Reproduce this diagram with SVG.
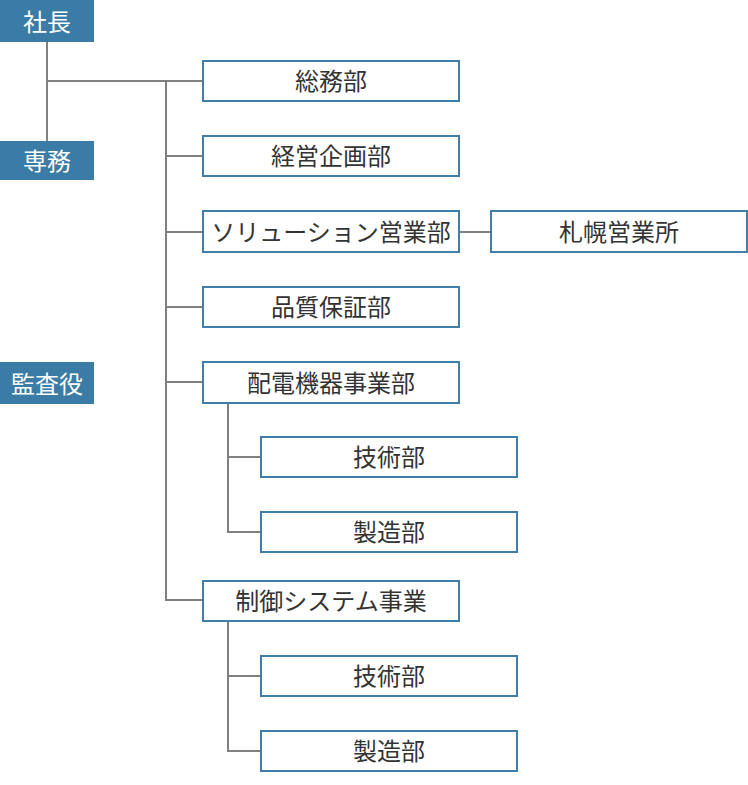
<svg xmlns="http://www.w3.org/2000/svg" width="748" height="785" viewBox="0 0 748 785">
<style>
.exec{fill:#3a7ca5;}
.exec-t{fill:#ffffff;font-family:"Noto Sans CJK JP","Noto Sans",sans-serif;font-size:24px;text-anchor:middle;dominant-baseline:central;}
.dept{fill:#ffffff;stroke:#3f7fa8;stroke-width:2;}
.dept-t{fill:#333333;font-family:"Noto Sans CJK JP","Noto Sans",sans-serif;font-size:24px;text-anchor:middle;dominant-baseline:central;}
.line{stroke:#808080;stroke-width:2;fill:none;}
</style>
<rect width="748" height="785" fill="#ffffff"/>
<g id="connectors">
<path class="line" d="M47,42 V141"/>
<path class="line" d="M47,81 H203"/>
<path class="line" d="M166,81 V600 H203"/>
<path class="line" d="M166,156 H203"/>
<path class="line" d="M166,232 H203"/>
<path class="line" d="M166,307 H203"/>
<path class="line" d="M166,382 H203"/>
<path class="line" d="M459,232 H491"/>
<path class="line" d="M228,403 V532 H261"/>
<path class="line" d="M228,457 H261"/>
<path class="line" d="M228,621 V751 H261"/>
<path class="line" d="M228,676 H261"/>
</g>
<g id="president"><rect class="exec" x="0" y="0" width="94" height="42"/><text class="exec-t" x="47" y="20.5">社長</text></g>
<g id="senmu"><rect class="exec" x="0" y="141" width="94" height="39"/><text class="exec-t" x="47" y="159.5">専務</text></g>
<g id="auditor"><rect class="exec" x="0" y="362" width="94" height="42"/><text class="exec-t" x="47" y="382">監査役</text></g>
<g id="soumu"><rect class="dept" x="203" y="61" width="256" height="40"/><text class="dept-t" x="331" y="79.5">総務部</text></g>
<g id="keiei"><rect class="dept" x="203" y="136" width="256" height="40"/><text class="dept-t" x="331" y="154.5">経営企画部</text></g>
<g id="solution"><rect class="dept" x="203" y="211" width="256" height="41"/><text class="dept-t" x="331" y="230">ソリューション営業部</text></g>
<g id="sapporo"><rect class="dept" x="491" y="211" width="256" height="41"/><text class="dept-t" x="619" y="230">札幌営業所</text></g>
<g id="hinshitsu"><rect class="dept" x="203" y="287" width="256" height="40"/><text class="dept-t" x="331" y="305.5">品質保証部</text></g>
<g id="haiden"><rect class="dept" x="203" y="362" width="256" height="41"/><text class="dept-t" x="331" y="381">配電機器事業部</text></g>
<g id="haiden-gijutsu"><rect class="dept" x="261" y="437" width="256" height="40"/><text class="dept-t" x="389" y="455.5">技術部</text></g>
<g id="haiden-seizou"><rect class="dept" x="261" y="512" width="256" height="40"/><text class="dept-t" x="389" y="530.5">製造部</text></g>
<g id="seigyo"><rect class="dept" x="203" y="581" width="256" height="40"/><text class="dept-t" x="331" y="599.5">制御システム事業</text></g>
<g id="seigyo-gijutsu"><rect class="dept" x="261" y="656" width="256" height="40"/><text class="dept-t" x="389" y="674.5">技術部</text></g>
<g id="seigyo-seizou"><rect class="dept" x="261" y="731" width="256" height="40"/><text class="dept-t" x="389" y="749.5">製造部</text></g>
</svg>
